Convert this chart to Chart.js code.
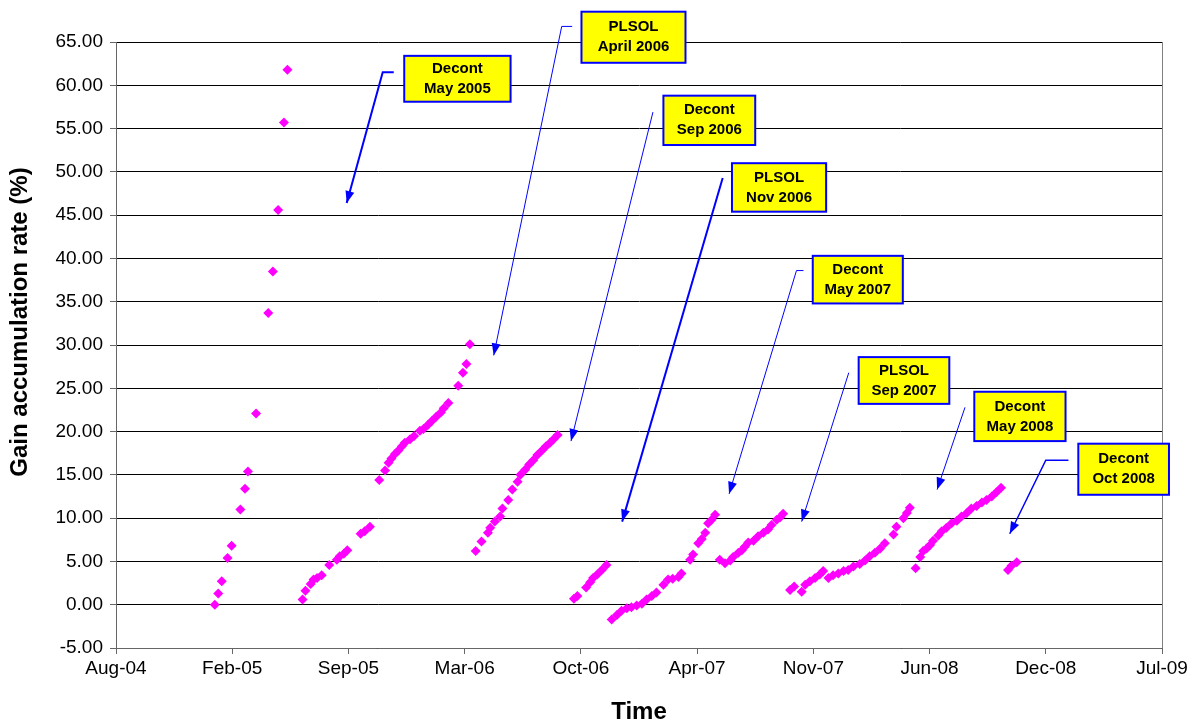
<!DOCTYPE html>
<html>
<head>
<meta charset="utf-8">
<script src="https://cdn.jsdelivr.net/npm/chart.js@4"></script>
<style>
  html, body { margin: 0; padding: 0; background: #fff; }
  canvas { display: block; }
</style>
</head>
<body>
<canvas id="gainChart" width="1198" height="724"></canvas>
<script>
// x values are Excel date serials (days since 1899-12-30), one run per line
const days = [
    38370, 38376, 38382, 38392, 38399, 38414, 38422, 38427, 38441, 38462, 38470, 38479, 38489, 38495,
    38521, 38526, 38535, 38540, 38546, 38554, 38567, 38580, 38585, 38592, 38598, 38621, 38628, 38637,
    38653, 38663, 38669, 38674, 38680, 38686, 38692, 38697, 38706, 38713, 38723, 38729, 38737, 38743,
    38751, 38759, 38764, 38772, 38789, 38797, 38803, 38809,
    38819, 38829, 38840, 38844, 38852, 38861, 38865, 38875, 38882, 38891, 38896, 38904, 38911, 38918,
    38925, 38933, 38940, 38947, 38953, 38960,
    38988, 38994, 39009, 39016, 39021, 39028, 39036, 39044,
    39053, 39062, 39070, 39079, 39087, 39096, 39105, 39113, 39122, 39130, 39142, 39150, 39158, 39168,
    39173, 39188, 39193, 39202, 39208, 39214, 39219, 39225, 39231,
    39239, 39248, 39257, 39262, 39271, 39277, 39282, 39288, 39297, 39305, 39314, 39322, 39328, 39337,
    39343, 39348,
    39360, 39367, 39380, 39386, 39394, 39403, 39411, 39417, 39426, 39434, 39443, 39452, 39460, 39469,
    39480, 39489, 39497, 39506, 39515, 39523, 39538, 39543, 39555, 39561, 39566,
    39576, 39584, 39589, 39595, 39601, 39606, 39615, 39621, 39629, 39638, 39647, 39655, 39664, 39672,
    39681, 39690, 39698, 39707, 39715, 39723,
    39735, 39741, 39750
];
const gain = [
    0.0, 1.3, 2.7, 5.4, 6.8, 11.0, 13.4, 15.4, 22.1, 33.7, 38.5, 45.6, 55.7, 61.8,
    0.6, 1.6, 2.4, 2.9, 3.1, 3.4, 4.6, 5.2, 5.6, 5.9, 6.3, 8.2, 8.5, 9.0,
    14.4, 15.5, 16.4, 16.9, 17.4, 17.8, 18.3, 18.7, 19.1, 19.5, 20.1, 20.3, 20.8, 21.2,
    21.7, 22.2, 22.7, 23.3, 25.3, 26.8, 27.8, 30.1,
    6.2, 7.3, 8.3, 8.9, 9.6, 10.2, 11.1, 12.1, 13.3, 14.2, 15.0, 15.6, 16.2, 16.7,
    17.3, 17.8, 18.3, 18.7, 19.1, 19.6,
    0.7, 1.0, 2.0, 2.6, 3.1, 3.5, 4.0, 4.6,
    -1.7, -1.2, -0.7, -0.4, -0.3, -0.1, 0.1, 0.6, 1.0, 1.4, 2.3, 2.9, 3.0, 3.2,
    3.6, 5.2, 5.8, 7.1, 7.6, 8.3, 9.4, 9.8, 10.4,
    5.2, 4.8, 5.1, 5.5, 6.0, 6.3, 6.7, 7.2, 7.4, 7.9, 8.3, 8.7, 9.2, 9.8,
    10.1, 10.5,
    1.7, 2.1, 1.5, 2.3, 2.7, 3.1, 3.5, 3.9, 3.1, 3.4, 3.6, 3.9, 4.0, 4.4,
    4.7, 5.1, 5.6, 6.0, 6.5, 7.1, 8.1, 9.0, 10.0, 10.6, 11.2,
    4.2, 5.5, 6.2, 6.5, 6.9, 7.4, 8.0, 8.5, 8.9, 9.4, 9.7, 10.2, 10.6, 11.1,
    11.4, 11.8, 12.1, 12.5, 13.0, 13.5,
    4.0, 4.5, 4.9
];

// axis range: Aug-04 .. Jul-09 every 200 days, -5 .. 65 every 5
const xRange = [38200, 40000, 200];
const yRange = [-5, 65, 5];
const months = ['Jan', 'Feb', 'Mar', 'Apr', 'May', 'Jun', 'Jul', 'Aug', 'Sep', 'Oct', 'Nov', 'Dec'];

// callouts: box corners and arrow path in data units (date serial, %)
const notes = [
    { text: ['Decont', 'May 2005'], box: [38696, 38879, 63.4, 58.1], arrow: [[38678, 61.5], [38659, 61.5], [38597, 46.4]], lw: 2 },
    { text: ['PLSOL', 'April 2006'], box: [39001, 39180, 68.5, 62.6], arrow: [[38985, 66.8], [38967, 66.8], [38850, 28.8]], lw: 1 },
    { text: ['Decont', 'Sep 2006'], box: [39142, 39300, 58.8, 53.1], arrow: [[39124, 56.9], [38983, 18.9]], lw: 1 },
    { text: ['PLSOL', 'Nov 2006'], box: [39260, 39422, 51.0, 45.4], arrow: [[39244, 49.3], [39071, 9.6]], lw: 2 },
    { text: ['Decont', 'May 2007'], box: [39399, 39554, 40.3, 34.8], arrow: [[39383, 38.6], [39371, 38.6], [39255, 12.8]], lw: 1 },
    { text: ['PLSOL', 'Sep 2007'], box: [39478, 39634, 28.6, 23.2], arrow: [[39461, 26.8], [39380, 9.6]], lw: 1 },
    { text: ['Decont', 'May 2008'], box: [39677, 39834, 24.6, 18.9], arrow: [[39661, 22.8], [39613, 13.3]], lw: 1 },
    { text: ['Decont', 'Oct 2008'], box: [39856, 40012, 18.6, 12.7], arrow: [[39839, 16.7], [39800, 16.7], [39738, 8.2]], lw: 1.5 },
];

const FONT = '"Liberation Sans", Arial, sans-serif';
Chart.defaults.font.family = FONT;
Chart.defaults.color = '#000';

function serialToLabel(s) {
    const d = new Date(Date.UTC(1899, 11, 30) + s * 86400000);
    return months[d.getUTCMonth()] + '-' + String(d.getUTCFullYear() % 100).padStart(2, '0');
}

const callouts = {
    id: 'callouts',
    beforeDatasetsDraw(chart) {
        // grey right edge of the plot area
        const { ctx, chartArea } = chart;
        const xr = Math.round(chartArea.right) + 0.5;
        ctx.save();
        ctx.strokeStyle = '#808080';
        ctx.lineWidth = 1;
        ctx.beginPath();
        ctx.moveTo(xr, chartArea.top);
        ctx.lineTo(xr, chartArea.bottom);
        ctx.stroke();
        ctx.restore();
    },
    afterDraw(chart) {
        const { ctx } = chart;
        const x = chart.scales.x, y = chart.scales.y;
        ctx.save();

        // y axis title
        ctx.fillStyle = '#000';
        ctx.font = 'bold 24px ' + FONT;
        ctx.textAlign = 'center';
        ctx.textBaseline = 'middle';
        ctx.translate(20, 322);
        ctx.rotate(-Math.PI / 2);
        ctx.fillText('Gain accumulation rate (%)', 0, 0);
        ctx.setTransform(1, 0, 0, 1, 0, 0);

        notes.forEach(n => {
            const pts = n.arrow.map(p => [x.getPixelForValue(p[0]), y.getPixelForValue(p[1])]);
            ctx.strokeStyle = '#0000FF';
            ctx.fillStyle = '#0000FF';
            ctx.lineWidth = n.lw;
            ctx.beginPath();
            pts.forEach((p, i) => i ? ctx.lineTo(p[0], p[1]) : ctx.moveTo(p[0], p[1]));
            ctx.stroke();
            const p = pts[pts.length - 2], q = pts[pts.length - 1];
            const ang = Math.atan2(q[1] - p[1], q[0] - p[0]);
            ctx.save();
            ctx.translate(q[0], q[1]);
            ctx.rotate(ang);
            ctx.beginPath();
            ctx.moveTo(0, 0);
            ctx.lineTo(-12, -4.5);
            ctx.lineTo(-12, 4.5);
            ctx.closePath();
            ctx.fill();
            ctx.restore();

            const l = x.getPixelForValue(n.box[0]), r = x.getPixelForValue(n.box[1]);
            const t = y.getPixelForValue(n.box[2]), b = y.getPixelForValue(n.box[3]);
            ctx.fillStyle = '#FFFF00';
            ctx.fillRect(l, t, r - l, b - t);
            ctx.strokeStyle = '#0000FF';
            ctx.lineWidth = 2;
            ctx.strokeRect(l, t, r - l, b - t);
            ctx.fillStyle = '#000';
            ctx.font = 'bold 15px ' + FONT;
            ctx.textAlign = 'center';
            ctx.textBaseline = 'middle';
            const cx = (l + r) / 2, cy = (t + b) / 2;
            ctx.fillText(n.text[0], cx, cy - 10);
            ctx.fillText(n.text[1], cx, cy + 10);
        });
        ctx.restore();
    }
};

const gainChart = new Chart(
    document.getElementById('gainChart'),
    {
        type: 'scatter',
        data: {
            datasets: [
                {
                    label: 'Gain accumulation rate',
                    data: days.map((d, i) => ({ x: d, y: gain[i] })),
                    pointStyle: 'rectRot',
                    pointRadius: 5,
                    borderWidth: 0,
                    backgroundColor: '#FF00FF',
                },
            ]
        },
        options: {
            responsive: false,
            animation: false,
            layout: {
                padding: { top: 42, right: 36, left: 0, bottom: 0 }
            },
            plugins: {
                legend: { display: false },
                tooltip: { enabled: false }
            },
            scales: {
                x: {
                    type: 'linear',
                    min: xRange[0],
                    max: xRange[1],
                    afterFit(scale) { scale.height = 76; },
                    ticks: {
                        stepSize: xRange[2],
                        autoSkip: false,
                        maxRotation: 0,
                        padding: 3,
                        font: { size: 19 },
                        callback: v => serialToLabel(v)
                    },
                    grid: {
                        drawOnChartArea: false,
                        tickLength: 6,
                        tickColor: '#666'
                    },
                    border: { color: '#666' },
                    title: {
                        display: true,
                        text: 'Time',
                        font: { size: 24, weight: 'bold', lineHeight: 1 },
                        padding: 0
                    }
                },
                y: {
                    min: yRange[0],
                    max: yRange[1],
                    afterFit(scale) { scale.width = 116; },
                    ticks: {
                        stepSize: yRange[2],
                        padding: 7,
                        font: { size: 19 },
                        callback: v => v.toFixed(2)
                    },
                    grid: {
                        color: '#000',
                        tickLength: 6,
                        tickColor: '#666'
                    },
                    border: { color: '#666' }
                }
            }
        },
        plugins: [callouts]
    }
);
</script>
</body>
</html>
